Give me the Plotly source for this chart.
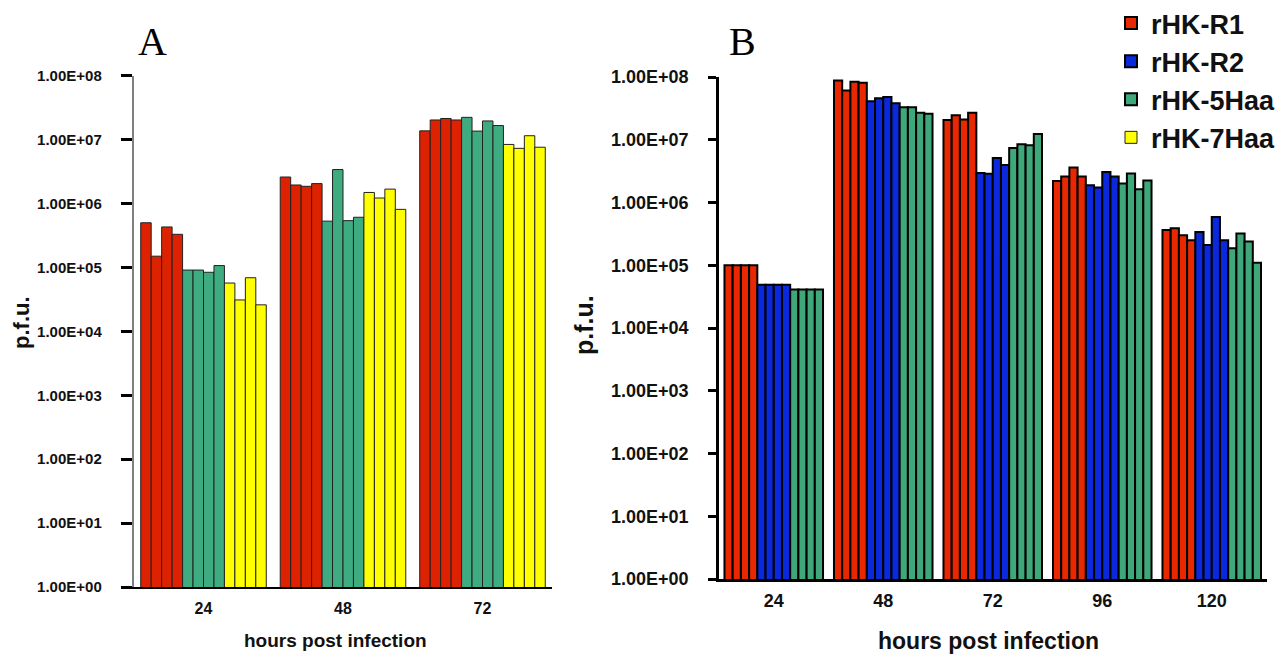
import plotly.graph_objects as go

# ---------------- data ----------------
hours_A = ["24", "48", "72"]
hours_B = ["24", "48", "72", "96", "120"]

# Panel A: 4 replicate bars per strain at each time point
A_R1 = [[5.0e5, 1.5e5, 4.3e5, 3.3e5],
        [2.6e6, 1.95e6, 1.86e6, 2.05e6],
        [1.37e7, 2.03e7, 2.14e7, 2.03e7]]
A_5Haa = [[9.1e4, 9.1e4, 8.4e4, 1.07e5],
          [5.3e5, 3.4e6, 5.4e5, 6.1e5],
          [2.23e7, 1.36e7, 1.96e7, 1.66e7]]
A_7Haa = [[5.7e4, 3.1e4, 6.9e4, 2.6e4],
          [1.49e6, 1.22e6, 1.68e6, 8.1e5],
          [8.4e6, 7.3e6, 1.15e7, 7.6e6]]

# Panel B
B_R1 = [[1.0e5, 1.0e5, 1.0e5, 1.0e5],
        [8.8e7, 6.1e7, 8.4e7, 8.1e7],
        [2.06e7, 2.45e7, 2.1e7, 2.7e7],
        [2.2e6, 2.6e6, 3.6e6, 2.6e6],
        [3.65e5, 3.9e5, 3.0e5, 2.5e5]]
B_R2 = [[4.9e4, 4.9e4, 4.9e4, 4.9e4],
        [4.1e7, 4.6e7, 4.8e7, 3.8e7],
        [2.96e6, 2.86e6, 5.1e6, 3.97e6],
        [1.88e6, 1.73e6, 3.07e6, 2.6e6],
        [3.4e5, 2.1e5, 5.9e5, 2.5e5]]
B_5Haa = [[4.1e4, 4.1e4, 4.1e4, 4.1e4],
          [3.3e7, 3.3e7, 2.7e7, 2.6e7],
          [7.4e6, 8.5e6, 8.2e6, 1.24e7],
          [2.0e6, 2.9e6, 1.63e6, 2.25e6],
          [1.86e5, 3.2e5, 2.4e5, 1.1e5]]

tick_vals = [1e0, 1e1, 1e2, 1e3, 1e4, 1e5, 1e6, 1e7, 1e8]
tick_text = ["1.00E+00", "1.00E+01", "1.00E+02", "1.00E+03", "1.00E+04",
             "1.00E+05", "1.00E+06", "1.00E+07", "1.00E+08"]

# ---------------- styling ----------------
colA = {"rHK-R1": "#dc2200", "rHK-5Haa": "#3fab80", "rHK-7Haa": "#ffff00"}
colB = {"rHK-R1": "#e82800", "rHK-R2": "#0a28dc", "rHK-5Haa": "#3ea87a"}
legend_rank = {"rHK-R1": 1, "rHK-R2": 2, "rHK-5Haa": 3, "rHK-7Haa": 4}

SANS = "Liberation Sans, Arial, sans-serif"
SERIF = "Liberation Serif, Times New Roman, serif"

fig = go.Figure()

def add_panel(series, colors, hours, xa, ya, lw, lc, legend_names):
    for name, data in series:
        for rep in range(4):
            fig.add_trace(go.Bar(
                x=hours, y=[grp[rep] for grp in data],
                name=name, legendgroup=name, legendrank=legend_rank[name],
                showlegend=(rep == 0 and name in legend_names),
                marker=dict(color=colors[name], line=dict(color=lc, width=lw)),
                xaxis=xa, yaxis=ya, hoverinfo="x+y+name"))

add_panel([("rHK-R1", A_R1), ("rHK-5Haa", A_5Haa), ("rHK-7Haa", A_7Haa)],
          colA, hours_A, "x", "y", 1, "#222222", ["rHK-7Haa"])
add_panel([("rHK-R1", B_R1), ("rHK-R2", B_R2), ("rHK-5Haa", B_5Haa)],
          colB, hours_B, "x2", "y2", 2, "#000000", ["rHK-R1", "rHK-R2", "rHK-5Haa"])

# the page body has an 8px margin, so the figure is shifted by 8px
OFF = 8
W, H = 1283 - OFF, 656 - OFF
def px(x): return (x - OFF) / W
def py(y): return (H - (y - OFF)) / H

fig.update_layout(
    width=W, height=H, margin=dict(l=0, r=0, t=0, b=0, autoexpand=False),
    paper_bgcolor="white", plot_bgcolor="white",
    barmode="group", bargap=0.1, bargroupgap=0,
    showlegend=True,
    legend=dict(x=px(1111), y=py(-1), xanchor="left", yanchor="top",
                font=dict(family=SANS, size=27, color="#111111", weight="bold"),
                tracegroupgap=6, bgcolor="rgba(0,0,0,0)", traceorder="normal"),
    xaxis=dict(domain=[px(133.75), px(552.25)], anchor="y", type="category",
               range=[-0.5, 2.5], showline=True, linecolor="#000000", linewidth=2,
               ticks="", showgrid=False, zeroline=False, ticklabelstandoff=6,
               tickfont=dict(family=SANS, size=16, color="#111111", weight="bold")),
    yaxis=dict(domain=[py(587), py(75.7)], anchor="x", type="log", range=[0, 8],
               tickvals=tick_vals, ticktext=tick_text,
               showline=True, linecolor="#808080", linewidth=2,
               ticks="outside", ticklen=11, tickwidth=2.5, tickcolor="#000000",
               ticklabelstandoff=16,
               showgrid=False, zeroline=False,
               tickfont=dict(family=SANS, size=15, color="#111111", weight="bold")),
    xaxis2=dict(domain=[px(719), px(1266.5)], anchor="y2", type="category",
                range=[-0.5, 4.5], showline=True, linecolor="#000000", linewidth=2.5,
                ticks="", showgrid=False, zeroline=False, ticklabelstandoff=4,
                tickfont=dict(family=SANS, size=18, color="#111111", weight="bold")),
    yaxis2=dict(domain=[py(579), py(77)], anchor="x2", type="log", range=[0, 8],
                tickvals=tick_vals, ticktext=tick_text,
                showline=True, linecolor="#000000", linewidth=2.5,
                ticks="outside", ticklen=8, tickwidth=2.5, tickcolor="#000000",
                ticklabelstandoff=16,
                showgrid=False, zeroline=False,
                tickfont=dict(family=SANS, size=18, color="#111111", weight="bold")),
)

ann = [
    dict(text="A", x=px(152.5), y=py(41), font=dict(family=SERIF, size=40, color="#000")),
    dict(text="B", x=px(742), y=py(41), font=dict(family=SERIF, size=40, color="#000")),
    dict(text="hours post infection", x=px(335.5), y=py(640),
         font=dict(family=SANS, size=19, color="#111", weight="bold")),
    dict(text="hours post infection", x=px(988.5), y=py(641),
         font=dict(family=SANS, size=23, color="#111", weight="bold")),
    dict(text="p.f.u.", x=px(21), y=py(323), textangle=-90,
         font=dict(family=SANS, size=22, color="#111", weight="bold")),
    dict(text="p.f.u.", x=px(584), y=py(325), textangle=-90,
         font=dict(family=SANS, size=25, color="#111", weight="bold")),
]
for a in ann:
    fig.add_annotation(xref="paper", yref="paper", showarrow=False,
                       xanchor="center", yanchor="middle", **a)

fig.write_html("out.html")
